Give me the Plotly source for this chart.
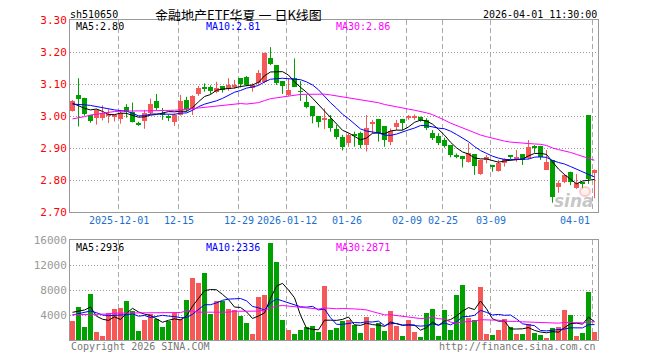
import plotly.graph_objects as go

# ---------------- data ----------------
TICK_LABELS = ["2025-12-01", "12-15", "12-29", "2026-01-12", "01-26", "02-09", "02-25", "03-09", "04-01"]
TICK_INDEX = [8, 18, 28, 36, 46, 56, 62, 70, 87]

OPEN = [3.017, 3.065, 3.055, 3.003, 2.995, 2.995, 3.001, 2.999, 2.990, 3.027,
        3.013, 2.975, 2.985, 3.008, 3.047, 3.008, 2.996, 2.982, 3.003, 3.050,
        3.021, 3.069, 3.089, 3.092, 3.076, 3.094, 3.084, 3.093, 3.118, 3.123,
        3.086, 3.102, 3.107, 3.180, 3.159, 3.109, 3.066, 3.118, 3.077, 3.045,
        3.031, 3.000, 2.990, 2.991, 2.959, 2.935, 2.915, 2.941, 2.946, 2.909,
        2.976, 2.991, 2.969, 2.920, 2.965, 2.991, 2.995, 2.995, 2.996, 2.988,
        2.946, 2.938, 2.925, 2.909, 2.876, 2.875, 2.857, 2.880, 2.819, 2.863,
        2.845, 2.828, 2.854, 2.874, 2.863, 2.881, 2.868, 2.905, 2.907, 2.831,
        2.863, 2.779, 2.795, 2.826, 2.774, 2.793, 3.003, 2.823]
HIGH = [3.050, 3.118, 3.057, 3.003, 3.021, 3.033, 3.021, 3.005, 3.019, 3.037,
        3.042, 2.982, 3.019, 3.054, 3.069, 3.025, 3.003, 3.008, 3.066, 3.060,
        3.065, 3.094, 3.102, 3.096, 3.107, 3.094, 3.118, 3.113, 3.118, 3.125,
        3.102, 3.144, 3.198, 3.215, 3.159, 3.109, 3.118, 3.180, 3.109, 3.066,
        3.031, 3.000, 3.024, 3.003, 2.972, 2.941, 2.946, 2.951, 2.951, 3.003,
        2.988, 2.991, 2.969, 2.961, 2.988, 2.991, 3.003, 3.005, 2.998, 2.993,
        2.956, 2.946, 2.932, 2.909, 2.883, 2.875, 2.915, 2.880, 2.863, 2.878,
        2.845, 2.863, 2.868, 2.878, 2.894, 2.881, 2.925, 2.909, 2.907, 2.894,
        2.863, 2.798, 2.819, 2.826, 2.819, 2.793, 3.003, 2.833]
LOW = [3.014, 2.967, 3.001, 2.979, 2.973, 2.986, 2.978, 2.983, 2.976, 2.995,
       2.980, 2.969, 2.960, 3.003, 3.019, 2.988, 2.984, 2.969, 3.001, 3.014,
       3.003, 3.063, 3.076, 3.069, 3.071, 3.073, 3.079, 3.085, 3.089, 3.095,
       3.076, 3.097, 3.102, 3.159, 3.097, 3.069, 3.063, 3.092, 3.047, 3.024,
       2.977, 2.964, 2.959, 2.951, 2.927, 2.892, 2.904, 2.904, 2.899, 2.889,
       2.946, 2.920, 2.904, 2.909, 2.956, 2.956, 2.988, 2.988, 2.982, 2.956,
       2.925, 2.909, 2.901, 2.871, 2.868, 2.839, 2.854, 2.816, 2.816, 2.852,
       2.826, 2.826, 2.842, 2.866, 2.857, 2.847, 2.865, 2.885, 2.863, 2.831,
       2.729, 2.760, 2.790, 2.784, 2.772, 2.774, 2.788, 2.743]
CLOSE = [3.047, 3.053, 3.005, 2.985, 3.019, 3.010, 3.005, 3.002, 3.010, 3.014,
         2.982, 2.973, 3.008, 3.037, 3.024, 3.006, 2.994, 3.004, 3.047, 3.022,
         3.063, 3.086, 3.087, 3.078, 3.088, 3.081, 3.096, 3.095, 3.101, 3.097,
         3.097, 3.135, 3.198, 3.161, 3.104, 3.095, 3.081, 3.092, 3.075, 3.029,
         3.001, 2.982, 2.992, 2.964, 2.935, 2.904, 2.941, 2.938, 2.909, 2.964,
         2.978, 2.946, 2.925, 2.953, 2.977, 2.977, 2.997, 2.997, 2.988, 2.961,
         2.930, 2.915, 2.906, 2.878, 2.874, 2.865, 2.883, 2.845, 2.863, 2.873,
         2.843, 2.854, 2.865, 2.872, 2.873, 2.863, 2.904, 2.903, 2.873, 2.857,
         2.746, 2.792, 2.816, 2.795, 2.792, 2.789, 2.802, 2.831]
VOLUME = [3040, 5280, 2080, 7360, 1280, 640, 4320, 4960, 5170, 6240,
          4640, 1440, 3200, 4100, 3360, 2080, 3040, 4320, 3300, 6400,
          9970, 9120, 10720, 4160, 6240, 6240, 4960, 4750, 3840, 2720,
          960, 6930, 7200, 15520, 12480, 3200, 1600, 960, 1600, 2080,
          2240, 1280, 8640, 1600, 1920, 3040, 3200, 2400, 1120, 3680,
          1920, 2720, 1440, 4640, 2240, 640, 3200, 1280, 480, 4320,
          4960, 640, 4800, 1600, 7200, 8800, 3520, 3200, 8480, 960,
          800, 1600, 3360, 2080, 960, 960, 2560, 1120, 800, 320,
          1920, 2080, 4800, 4000, 640, 1120, 7680, 1280]

# moving-average values at the start of the window
MA5_HEAD = [3.040, 3.031, 3.024, 3.019]
MA10_HEAD = [3.037, 3.037, 3.035, 3.033, 3.029, 3.026, 3.022, 3.019, 3.017]
MA30_HEAD = [2.991, 2.994, 2.998, 3.003, 3.006, 3.009, 3.011, 3.014, 3.015, 3.016,
             3.016, 3.016, 3.016, 3.016, 3.017, 3.017, 3.017, 3.018, 3.019, 3.021,
             3.023, 3.026, 3.027, 3.029, 3.030, 3.032, 3.034, 3.036, 3.039]
VMA5_HEAD = [4430, 4640, 4800, 5280]
VMA10_HEAD = [4000, 4210, 4320, 4640, 4370, 4000, 3890, 3890, 4000]
VMA30_HEAD = [4050, 4050, 4050, 4050, 4050, 4150, 4150, 4300, 4300, 4300,
              4300, 4300, 4300, 4300, 4300, 4300, 4400, 4400, 4400, 4650,
              4650, 4450, 4450, 4450, 4450, 4450, 4450, 4600, 4600]

PRICE_TICKS = [2.70, 2.80, 2.90, 3.00, 3.10, 3.20, 3.30]
VOL_TICKS = [4000, 8000, 12000, 16000]

MA_TEXT_PRICE = ["MA5:2.80", "MA10:2.81", "MA30:2.86"]
MA_TEXT_VOL = ["MA5:2936", "MA10:2336", "MA30:2871"]
CODE = "sh510650"
TITLE = "金融地产ETF华夏 一 日K线图"
STAMP = "2026-04-01 11:30:00"

# ---------------- helpers ----------------
N = len(CLOSE)
IDX = list(range(N))


def moving(vals, n, head):
    out = []
    for i in range(len(vals)):
        if i < n - 1:
            out.append(head[i])
        else:
            out.append(sum(vals[i - n + 1:i + 1]) / n)
    return out


RED = "#f65757"
GREEN = "#00a000"
MONO = "DejaVu Sans Mono, Liberation Mono, monospace"

up = [c >= o for o, c in zip(OPEN, CLOSE)]
colors = [RED if u else GREEN for u in up]
body_base = [min(o, c) for o, c in zip(OPEN, CLOSE)]
body_h = [max(abs(c - o), 0.0031) for o, c in zip(OPEN, CLOSE)]

# page has an 8px body margin: the figure starts at (8, 8) of the window
OFF = 8
W, H = 660 - OFF, 360 - OFF
PLOT_L, PLOT_R, PLOT_T, PLOT_B = 70, 598, 20, 340      # window pixels
ML, MR, MT, MB = PLOT_L - OFF, 660 - PLOT_R, PLOT_T - OFF, 360 - PLOT_B
PW, PH = PLOT_R - PLOT_L, PLOT_B - PLOT_T


def pxx(x):
    return (x - PLOT_L) / PW


def pxy(y):
    return (PLOT_B - y) / PH


fig = go.Figure()

# wicks
for col, flag in ((RED, True), (GREEN, False)):
    xs, ys = [], []
    for i in IDX:
        if up[i] == flag:
            xs += [i, i, None]
            ys += [LOW[i], HIGH[i], None]
    fig.add_trace(go.Scatter(x=xs, y=ys, mode="lines", line=dict(color=col, width=1),
                             hoverinfo="skip", xaxis="x", yaxis="y"))

# bodies
fig.add_trace(go.Bar(x=IDX, y=body_h, base=body_base, width=5 / 6,
                     marker=dict(color=colors, line=dict(width=0)), xaxis="x", yaxis="y"))

# price moving averages
for vals, n, head, col in ((CLOSE, 5, MA5_HEAD, "#000000"), (CLOSE, 10, MA10_HEAD, "#0000ff"),
                           (CLOSE, 30, MA30_HEAD, "#ff00ff")):
    fig.add_trace(go.Scatter(x=IDX, y=moving(vals, n, head), mode="lines",
                             line=dict(color=col, width=1), xaxis="x", yaxis="y"))

# volume
fig.add_trace(go.Bar(x=IDX, y=VOLUME, width=5 / 6,
                     marker=dict(color=colors, line=dict(width=0)), xaxis="x2", yaxis="y2"))
for vals, n, head, col in ((VOLUME, 5, VMA5_HEAD, "#000000"), (VOLUME, 10, VMA10_HEAD, "#0000ff"),
                           (VOLUME, 30, VMA30_HEAD, "#ff00ff")):
    fig.add_trace(go.Scatter(x=IDX, y=moving(vals, n, head), mode="lines",
                             line=dict(color=col, width=1), xaxis="x2", yaxis="y2"))

r0 = -2.5 / 6
xr = [r0, r0 + PW / 6]
grid_x = [t - 1 / 3 for t in TICK_INDEX]

xcommon = dict(range=xr, tickvals=grid_x, showticklabels=False, ticks="",
               showgrid=True, gridcolor="#aaaaaa", griddash="5px,3px", gridwidth=1,
               showline=True, linecolor="#999999", linewidth=1, mirror=True, zeroline=False,
               fixedrange=True)

fig.update_layout(
    width=W, height=H,
    margin=dict(l=ML, r=MR, t=MT, b=MB, pad=0, autoexpand=False),
    paper_bgcolor="white", plot_bgcolor="white",
    showlegend=False, barmode="overlay", bargap=0,
    xaxis=dict(anchor="y", domain=[0, 1], **xcommon),
    xaxis2=dict(anchor="y2", domain=[0, 1], **xcommon),
    yaxis=dict(anchor="x", domain=[pxy(212), 1], range=[PRICE_TICKS[0], PRICE_TICKS[-1]],
               tickvals=PRICE_TICKS, ticktext=[f"{v:.2f}" for v in PRICE_TICKS],
               tickfont=dict(family=MONO, size=11, color="#ff0000"), ticks="",
               showgrid=True, gridcolor="#999999", griddash="1px,2px", gridwidth=1,
               showline=True, linecolor="#999999", linewidth=1, mirror=True, zeroline=False),
    yaxis2=dict(anchor="x2", domain=[0, pxy(240)], range=[0, VOL_TICKS[-1]],
                tickvals=VOL_TICKS, ticktext=[str(v) for v in VOL_TICKS],
                tickfont=dict(family=MONO, size=11, color="#999999"), ticks="",
                showgrid=True, gridcolor="#999999", griddash="1px,2px", gridwidth=1,
                showline=True, linecolor="#999999", linewidth=1, mirror=True, zeroline=False),
)

ann = []
# date labels
for lab, t in zip(TICK_LABELS, grid_x):
    last = lab == TICK_LABELS[-1]
    ann.append(dict(x=t + (0 if not last else -0.1), y=pxy(220), xref="x", yref="paper",
                    text=lab, showarrow=False, xanchor="right" if last else "center",
                    yanchor="middle", font=dict(family=MONO, size=10, color="#1a6fd0")))
# MA labels
for txt, x0, col in zip(MA_TEXT_PRICE, (75, 205, 335), ("#000000", "#0000ff", "#ff00ff")):
    ann.append(dict(x=pxx(x0), y=pxy(27), xref="paper", yref="paper", text=txt, showarrow=False,
                    xanchor="left", yanchor="middle", borderpad=0, height=11,
                    font=dict(family=MONO, size=10, color=col)))
for txt, x0, col in zip(MA_TEXT_VOL, (75, 205, 335), ("#000000", "#0000ff", "#ff00ff")):
    ann.append(dict(x=pxx(x0), y=pxy(247), xref="paper", yref="paper", text=txt, showarrow=False,
                    xanchor="left", yanchor="middle", borderpad=0, height=11,
                    font=dict(family=MONO, size=10, color=col)))
# header
ann.append(dict(x=pxx(69), y=pxy(14), xref="paper", yref="paper", text=CODE, showarrow=False,
                xanchor="left", yanchor="middle", borderpad=0, height=12,
                font=dict(family=MONO, size=10, color="#000")))
ann.append(dict(x=pxx(238), y=pxy(14.5), xref="paper", yref="paper", text=TITLE, showarrow=False,
                xanchor="center", yanchor="middle", borderpad=0, height=13, valign="middle",
                font=dict(family="Noto Sans CJK SC", size=13, color="#000")))
ann.append(dict(x=pxx(598), y=pxy(14), xref="paper", yref="paper", text=STAMP, showarrow=False,
                xanchor="right", yanchor="middle", borderpad=0, height=12,
                font=dict(family=MONO, size=10, color="#000")))
# footer
ann.append(dict(x=pxx(69), y=pxy(346), xref="paper", yref="paper", text="Copyright 2026 SINA.COM",
                showarrow=False, xanchor="left", yanchor="middle",
                font=dict(family=MONO, size=10, color="#777777")))
ann.append(dict(x=pxx(598), y=pxy(346), xref="paper", yref="paper", text="http://finance.sina.com.cn",
                showarrow=False, xanchor="right", yanchor="middle",
                font=dict(family=MONO, size=10, color="#777777")))
# watermark
ann.append(dict(x=pxx(596), y=pxy(201), xref="paper", yref="paper", text="sina", showarrow=False,
                xanchor="right", yanchor="middle",
                font=dict(family="DejaVu Sans", size=17, color="rgba(150,150,150,0.55)",
                          style="italic", weight="bold")))
fig.update_layout(annotations=ann)
fig.add_shape(type="circle", xref="paper", yref="paper", x0=pxx(580), x1=pxx(590),
              y0=pxy(196), y1=pxy(187), line=dict(color="rgba(240,120,120,0.35)", width=2),
              fillcolor="rgba(255,200,200,0.25)")

fig.write_html("out.html")
